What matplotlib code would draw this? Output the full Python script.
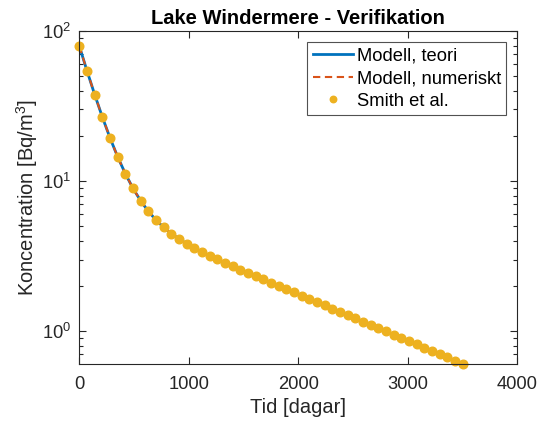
import matplotlib.pyplot as plt
import matplotlib.ticker as mticker

plt.rcParams['font.family'] = ['Liberation Sans', 'DejaVu Sans']
plt.rcParams['mathtext.fontset'] = 'custom'
plt.rcParams['mathtext.rm'] = 'Liberation Sans'
plt.rcParams['mathtext.it'] = 'Liberation Sans:italic'
plt.rcParams['mathtext.bf'] = 'Liberation Sans:bold'

# tid [dagar] och uppmätt koncentration [Bq/m3]
tid = [0, 70, 140, 210, 280, 350, 420, 490, 560, 630,
       700, 770, 840, 910, 980, 1050, 1120, 1190, 1260, 1330,
       1400, 1470, 1540, 1610, 1680, 1750, 1820, 1890, 1960, 2030,
       2100, 2170, 2240, 2310, 2380, 2450, 2520, 2590, 2660, 2730,
       2800, 2870, 2940, 3010, 3080, 3150, 3220, 3290, 3360, 3430, 3500]
smith = [79.3, 54.2, 37.7, 26.7, 19.4, 14.5, 11.2, 8.94, 7.39, 6.29,
         5.50, 4.92, 4.47, 4.12, 3.83, 3.58, 3.37, 3.18, 3.01, 2.85,
         2.71, 2.57, 2.44, 2.32, 2.21, 2.10, 2.00, 1.90, 1.81, 1.72,
         1.64, 1.558, 1.482, 1.410, 1.342, 1.277, 1.215, 1.156, 1.100, 1.047,
         0.996, 0.948, 0.902, 0.858, 0.816, 0.777, 0.739, 0.703, 0.669, 0.637, 0.606]
teori = smith
numeriskt = smith

fig = plt.figure(figsize=(5.38, 4.23), dpi=100)
ax = fig.add_axes([0.1475, 0.140, 0.8140, 0.7867])

ax.semilogy(tid, teori, '-', color='#0072BD', lw=2, label='Modell, teori')
ax.semilogy(tid, numeriskt, color='#D95319', lw=1.5, ls=(0, (3.5, 2.2)),
            label='Modell, numeriskt')
ax.semilogy(tid, smith, 'o', color='#EDB120', ms=6.2, mec='#EDB120',
            clip_on=False, label='Smith et al.')

ax.set_xlim(0, 4000)
ax.set_ylim(0.606, 100)
ax.set_xticks([0, 1000, 2000, 3000, 4000])
ax.yaxis.set_major_locator(mticker.LogLocator(base=10, numticks=10))
ax.yaxis.set_minor_locator(mticker.LogLocator(base=10, subs=range(2, 10), numticks=10))
ax.yaxis.set_minor_formatter(mticker.NullFormatter())

ax.tick_params(which='both', direction='in', top=True, right=True,
               labelsize=13.2, colors='#262626', width=0.8, pad=6)
ax.tick_params(axis='x', pad=8.5)
ax.tick_params(which='major', length=5)
ax.tick_params(which='minor', length=3)
for s in ax.spines.values():
    s.set_color('#262626')
    s.set_linewidth(0.8)

ax.set_xlabel('Tid [dagar]', fontsize=14.5, color='#262626', labelpad=4)
ax.set_ylabel('Koncentration [Bq/m$^3$]', fontsize=14.5, color='#262626', labelpad=1)
ax.set_title('Lake Windermere - Verifikation', fontsize=14.5, fontweight='bold', pad=5)

leg = ax.legend(loc='upper right', fontsize=13.2, frameon=True, fancybox=False,
                borderaxespad=0.6, handlelength=2.2, handletextpad=0.2,
                labelspacing=0.3, borderpad=0.3, markerscale=0.75)
leg.get_frame().set_edgecolor('#262626')
leg.get_frame().set_linewidth(0.8)

fig.savefig('out.png', dpi=100)
